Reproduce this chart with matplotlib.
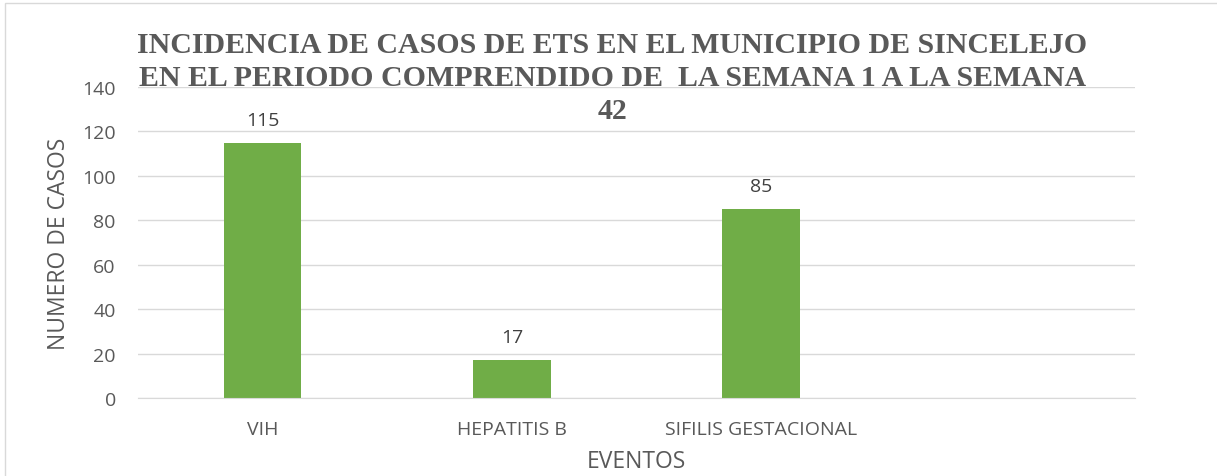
import matplotlib.pyplot as plt
from matplotlib.patches import Rectangle

eventos = ["VIH", "HEPATITIS B", "SIFILIS GESTACIONAL", ""]
casos = [115, 17, 85, 0]
titulo = ["INCIDENCIA DE CASOS DE ETS EN EL MUNICIPIO DE SINCELEJO",
          "EN EL PERIODO COMPRENDIDO DE  LA SEMANA 1 A LA SEMANA",
          "42"]

gris = "#595959"
verde = "#70ad47"

fig = plt.figure(figsize=(12.17, 4.77), dpi=100)
ax = fig.add_axes([0.1134, 0.1635, 0.8192, 0.652])

x = list(range(len(eventos)))
barras = ax.bar(x[:3], casos[:3], width=0.31, color=verde, zorder=2)
for b, v in zip(barras, casos[:3]):
    ax.annotate(str(v), (b.get_x() + b.get_width() / 2, v), xytext=(0, 10),
                textcoords="offset points", ha="center", va="bottom",
                fontsize=14, color="#404040", family="Open Sans")

ax.set_xlim(-0.5, len(eventos) - 0.5)
ax.set_ylim(0, 140)
ax.set_yticks(range(0, 141, 20))
ax.set_xticks(x)
ax.set_xticklabels(eventos)
ax.grid(axis="y", color="#d9d9d9", linewidth=1, zorder=0)
for s in ["top", "right", "left"]:
    ax.spines[s].set_visible(False)
ax.spines["bottom"].set_color("#d9d9d9")
ax.tick_params(length=0, colors=gris, labelsize=14)
ax.tick_params(axis="y", pad=16)
ax.tick_params(axis="x", pad=16)
for lab in ax.get_xticklabels() + ax.get_yticklabels():
    lab.set_family("Open Sans")
ax.set_xlabel("EVENTOS", fontsize=16.5, color=gris, family="Open Sans", labelpad=8)
ax.set_ylabel("NUMERO DE CASOS", fontsize=16.5, color=gris, family="Open Sans", labelpad=8)

# titulo en tres lineas separadas (como en el original)
for i, linea in enumerate(titulo):
    fig.text(0.503, 1 - (53 + 33 * i) / 477, linea, ha="center", va="baseline",
             fontsize=21.5, fontweight="bold", family="Liberation Serif",
             color=gris, zorder=5)

fig.patches.append(Rectangle((5 / 1217, -0.1), 1.2, (477 - 4) / 477 + 0.1,
                             transform=fig.transFigure, fill=False,
                             edgecolor="#d9d9d9", linewidth=1))

fig.savefig("out.png", dpi=100)
